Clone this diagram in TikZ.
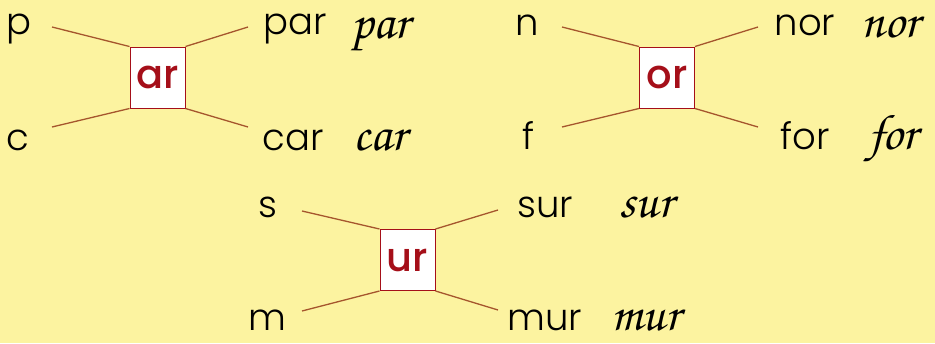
\documentclass[tikz,border=0pt]{standalone}
\usepackage{fontspec}
\setmainfont{Poppins}[UprightFont={* Light}, BoldFont={* Medium}]
\newfontfamily\cursive{texgyrechorus-mediumitalic.otf}
\usepackage{xcolor}
\definecolor{paper}{RGB}{252,243,160}
\definecolor{boxred}{RGB}{165,15,25}
\definecolor{linkbrown}{RGB}{165,85,45}

\tikzset{
  syl/.style={draw=boxred, fill=white, line width=1pt, minimum width=55pt, minimum height=61pt,
    inner sep=0pt, text=boxred, font=\fontsize{40}{40}\selectfont\bfseries},
  word/.style={anchor=base, inner sep=0pt, font=\fontsize{37}{37}\selectfont},
  hand/.style={anchor=base, inner sep=0pt, font=\fontsize{50}{50}\selectfont\cursive},
  link/.style={linkbrown, line width=1.3pt}
}

\begin{document}
\begin{tikzpicture}[x=1pt, y=-1pt]
            \fill[paper] (0,0) rectangle (935,343);
            \useasboundingbox (0,0) rectangle (935,343);

            % ar
            \node[syl] (ar) at (157.5,77.5) {ar};
            \node[word] (p) at (19,34) {p};
            \node[word] (c) at (18,150) {c};
            \node[word] (par) at (295,34) {par};
            \node[hand] (parh) at (380,38) {par};
            \node[word] (car) at (293,150) {car};
            \node[hand] (carh) at (380,150) {car};
            \coordinate (ar-p) at (52,27);
            \coordinate (ar-c) at (52,127);
            \coordinate (ar-par) at (248,27);
            \coordinate (ar-car) at (248,127);
            \draw[link] (ar-p) -- (ar.north west);
            \draw[link] (ar-c) -- (ar.south west);
            \draw[link] (ar.north east) -- (ar-par);
            \draw[link] (ar.south east) -- (ar-car);

            % or
            \node[syl] (or) at (667,77.5) {or};
            \node[word] (n) at (527,35) {n};
            \node[word] (f) at (529,149) {f};
            \node[word] (nor) at (805,35) {nor};
            \node[hand] (norh) at (890,37) {nor};
            \node[word] (for) at (805,149) {for};
            \node[hand] (forh) at (893,149) {for};
            \coordinate (or-n) at (562,27);
            \coordinate (or-f) at (562,127);
            \coordinate (or-nor) at (758,27);
            \coordinate (or-for) at (758,127);
            \draw[link] (or-n) -- (or.north west);
            \draw[link] (or-f) -- (or.south west);
            \draw[link] (or.north east) -- (or-nor);
            \draw[link] (or.south east) -- (or-for);

            % ur
            \node[syl] (ur) at (407.5,260) {ur};
            \node[word] (s) at (268,217) {s};
            \node[word] (m) at (267,330) {m};
            \node[word] (sur) at (545,217) {sur};
            \node[hand] (surh) at (646,217) {sur};
            \node[word] (mur) at (545,330) {mur};
            \node[hand] (murh) at (646,330) {mur};
            \coordinate (ur-s) at (302,211);
            \coordinate (ur-m) at (302,311);
            \coordinate (ur-sur) at (498,210);
            \coordinate (ur-mur) at (498,310);
            \draw[link] (ur-s) -- (ur.north west);
            \draw[link] (ur-m) -- (ur.south west);
            \draw[link] (ur.north east) -- (ur-sur);
            \draw[link] (ur.south east) -- (ur-mur);
        \end{tikzpicture}
\end{document}
